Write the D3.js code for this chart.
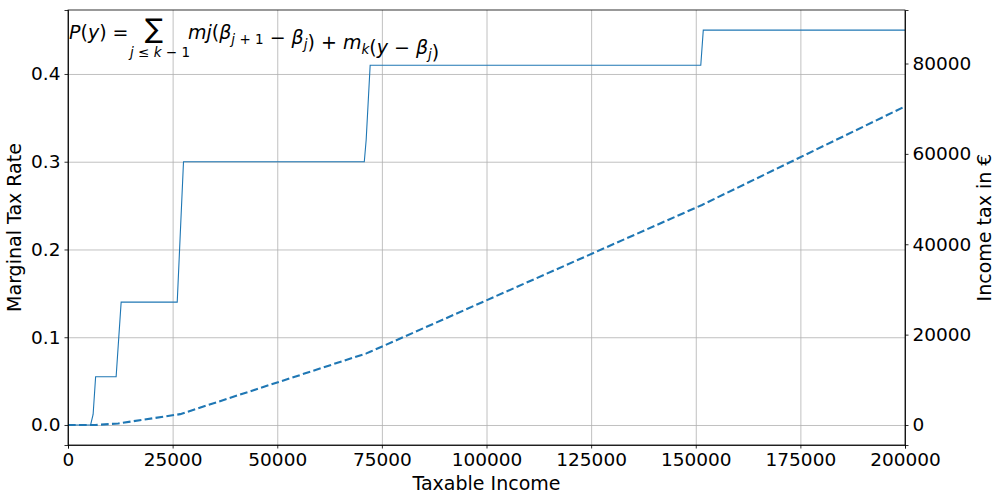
<!DOCTYPE html>
<html>
<head>
<meta charset="utf-8">
<script src="https://cdn.jsdelivr.net/npm/d3@7"></script>
<style>
  body { margin: 0; background: #fff; }
  svg text { font-family: "DejaVu Sans", sans-serif; }
  .grid line { stroke: #b0b0b0; stroke-width: 0.8; }
  .grid path { display: none; }
  .axis text { font-size: 18.5px; fill: #000; font-family: "DejaVu Sans", sans-serif; }
  .axis line, .axis path { stroke: #000; stroke-width: 0.8; }
</style>
</head>
<body>
<div id="chart"></div>
<script>
// marginal tax rate (solid line)
var rateIncome = [0, 5400, 6000, 6600, 11500, 12700, 26100, 27600, 70800, 71250, 72200, 151200, 151800, 200000];
var rateValue  = [0, 0, 0.012, 0.055, 0.055, 0.14, 0.14, 0.30, 0.30, 0.325, 0.41, 0.41, 0.45, 0.45];

// income tax (dashed line)
var taxIncome = [0, 6500, 12000, 26800, 71300, 72200, 151500, 200000];
var taxValue  = [0, 0, 330, 2400, 15850, 16200, 48700, 70500];

var xTicks = [0, 25000, 50000, 75000, 100000, 125000, 150000, 175000, 200000];
var rateTicks = [0, 0.1, 0.2, 0.3, 0.4];
var taxTicks = [0, 20000, 40000, 60000, 80000];

var W = 1002, H = 501;
var margin = {top: 10, right: 97, bottom: 56, left: 68};
var width = 905 - margin.left, height = 445 - margin.top;
var color = "#1f77b4";

var svg = d3.select("#chart").append("svg")
    .attr("width", W).attr("height", H);
var g = svg.append("g")
    .attr("transform", "translate(" + margin.left + "," + margin.top + ")");

var x = d3.scaleLinear().domain([0, 200000]).range([0, width]);
var yRate = d3.scaleLinear().domain([-0.0228, 0.4729]).range([height, 0]);
var yTax = d3.scaleLinear().domain([-4426, 91840]).range([height, 0]);

//grid
g.append("g").attr("class", "grid")
    .attr("transform", "translate(0," + height + ")")
    .call(d3.axisBottom(x).tickValues(xTicks).tickSize(-height).tickFormat(""));
g.append("g").attr("class", "grid")
    .call(d3.axisLeft(yRate).tickValues(rateTicks).tickSize(-width).tickFormat(""));

//lines
var rateData = rateIncome.map(function(d, i) { return [d, rateValue[i]]; });
var taxData = taxIncome.map(function(d, i) { return [d, taxValue[i]]; });

g.append("path").datum(rateData)
    .attr("fill", "none").attr("stroke", color).attr("stroke-width", 1.1)
    .attr("d", d3.line().x(function(d) { return x(d[0]); }).y(function(d) { return yRate(d[1]); }));

g.append("path").datum(taxData)
    .attr("fill", "none").attr("stroke", color).attr("stroke-width", 2.1)
    .attr("stroke-dasharray", "7.7,3.3")
    .attr("d", d3.line().x(function(d) { return x(d[0]); }).y(function(d) { return yTax(d[1]); }));

//axes
g.append("g").attr("class", "axis")
    .attr("transform", "translate(0," + height + ")")
    .call(d3.axisBottom(x).tickValues(xTicks).tickSize(3.5).tickPadding(4).tickFormat(d3.format("d")));
g.append("g").attr("class", "axis")
    .call(d3.axisLeft(yRate).tickValues(rateTicks).tickSize(3.5).tickPadding(4).tickFormat(d3.format(".1f")));
g.append("g").attr("class", "axis")
    .attr("transform", "translate(" + width + ",0)")
    .call(d3.axisRight(yTax).tickValues(taxTicks).tickSize(3.5).tickPadding(4).tickFormat(d3.format("d")));

//frame
g.append("rect").attr("width", width).attr("height", height)
    .attr("fill", "none").attr("stroke", "#000").attr("stroke-width", 0.8);

//axis labels
svg.append("text").attr("x", margin.left + width / 2).attr("y", 490)
    .attr("text-anchor", "middle").style("font-size", "19px").text("Taxable Income");
svg.append("text").attr("transform", "translate(21," + (margin.top + height / 2) + ") rotate(-90)")
    .attr("text-anchor", "middle").style("font-size", "19px").text("Marginal Tax Rate");
svg.append("text").attr("transform", "translate(991," + (margin.top + height / 2) + ") rotate(-90)")
    .attr("text-anchor", "middle").style("font-size", "19px").text("Income tax in €");

//formula
var f1 = svg.append("text").attr("x", 69).attr("y", 39).style("font-size", "19px");
f1.append("tspan").style("font-style", "italic").text("P");
f1.append("tspan").text("(");
f1.append("tspan").style("font-style", "italic").text("y");
f1.append("tspan").text(") =");

svg.append("text").attr("x", 145).attr("y", 38).style("font-size", "27px").text("∑");

var fs = svg.append("text").attr("x", 130).attr("y", 57).style("font-size", "13.5px");
fs.append("tspan").style("font-style", "italic").text("j");
fs.append("tspan").text(" ≤ ");
fs.append("tspan").style("font-style", "italic").text("k");
fs.append("tspan").text(" − 1");

var f2 = svg.append("text").attr("x", 188).attr("y", 39).style("font-size", "19px");
function part(t, it) { return f2.append("tspan").style("font-style", it ? "italic" : "normal").text(t); }
function sub(t, it) {
  f2.append("tspan").attr("dy", 5).style("font-size", "13.5px").style("font-style", it ? "italic" : "normal").text(t);
  f2.append("tspan").attr("dy", -5).text("");
}
part("mj", true); part("("); part("β", true);
f2.append("tspan").attr("dy", 5).style("font-size", "13.5px").style("font-style", "italic").text("j");
f2.append("tspan").style("font-size", "13.5px").text(" + 1");
f2.append("tspan").attr("dy", -5).text("");
part(" − "); part("β", true); sub("j", true);
part(") + "); part("m", true); sub("k", true);
part("("); part("y", true); part(" − "); part("β", true); sub("j", true); part(")");
</script>
</body>
</html>
